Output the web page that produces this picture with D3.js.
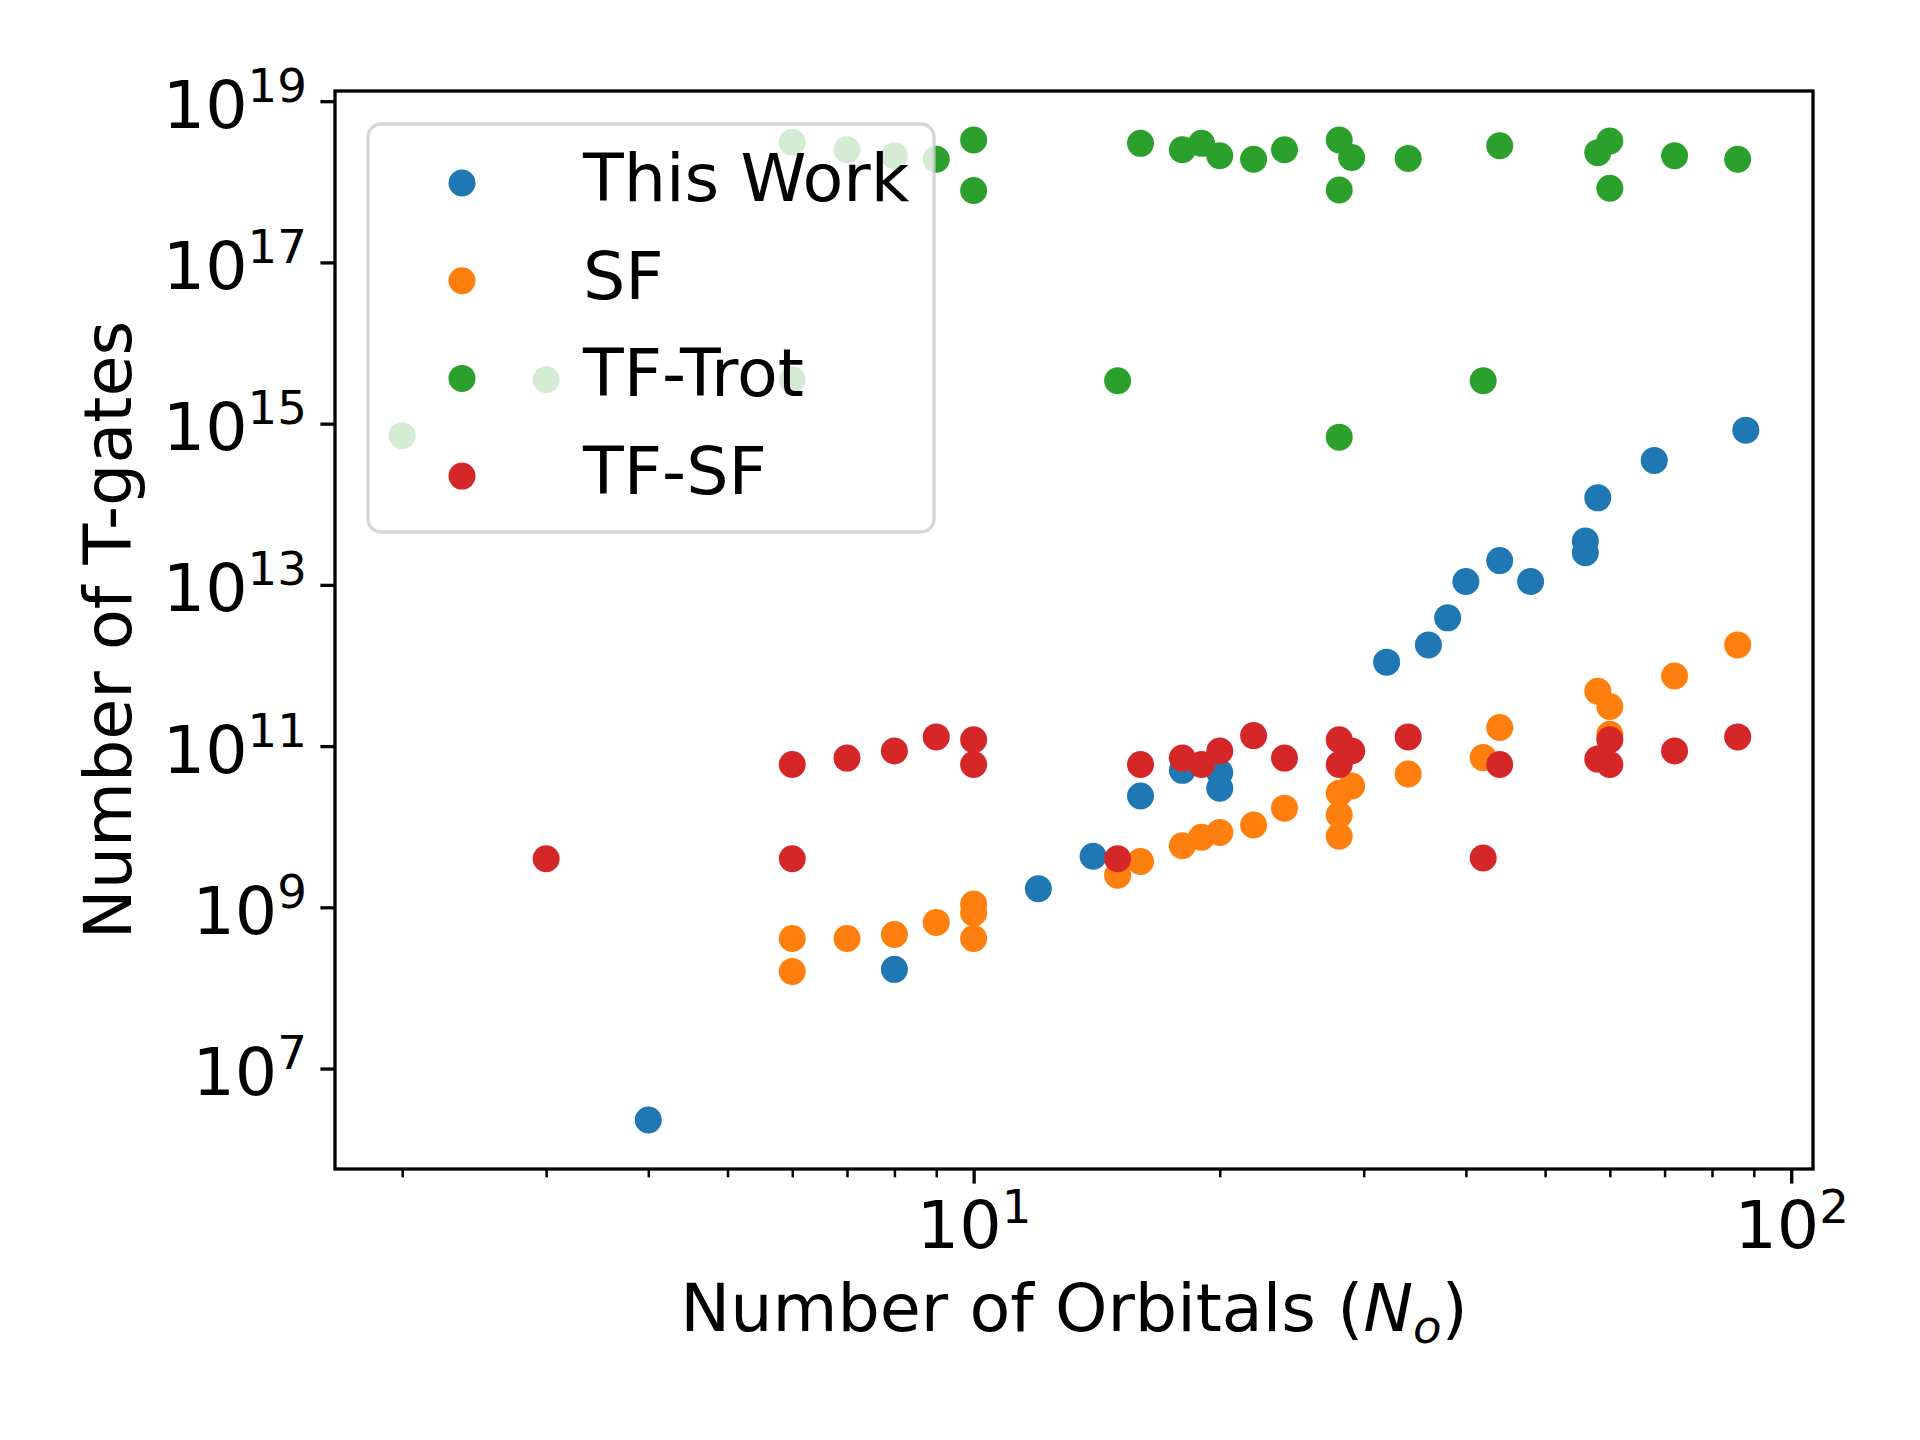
<!DOCTYPE html>
<html>
<head>
<meta charset="utf-8">
<script src="https://cdn.jsdelivr.net/npm/d3@7"></script>
<style>
  body { margin: 0; background: #fff; }
  text { font-family: "DejaVu Sans", sans-serif; }
</style>
</head>
<body>
<div id="chart"></div>
<script>
// series names and colours (matplotlib tab10)
var seriesNames = ["This Work", "SF", "TF-Trot", "TF-SF"];
var seriesColors = ["#1f77b4", "#ff7f0e", "#2ca02c", "#d62728"];

// This Work
var workOrbitals = [4, 8, 12, 14, 16, 18, 20, 20, 32, 36, 38, 40, 44, 48, 56, 56, 58, 68, 88];
var workGates = [2.3e6, 1.7e8, 1.7e9, 4.3e9, 2.4e10, 5.0e10, 4.7e10, 3.0e10, 1.1e12, 1.8e12,
  3.9e12, 1.1e13, 2.0e13, 1.1e13, 3.5e13, 2.5e13, 1.2e14, 3.5e14, 8.3e14];

// SF
var sfOrbitals = [6, 6, 7, 8, 9, 10, 10, 10, 15, 16, 18, 19, 20, 22, 24, 28, 28, 28, 29, 34, 42, 44, 58, 60, 60, 72, 86];
var sfGates = [4.1e8, 1.6e8, 4.1e8, 4.6e8, 6.5e8, 1.1e9, 8.5e8, 4.1e8, 2.5e9, 3.7e9, 5.8e9, 7.4e9,
  8.5e9, 1.05e10, 1.7e10, 2.6e10, 1.4e10, 7.6e9, 3.2e10, 4.5e10, 7.2e10, 1.7e11, 4.8e11, 3.1e11,
  1.4e11, 7.4e11, 1.8e12];

// TF-Trot
var trotOrbitals = [2, 3, 6, 6, 7, 8, 9, 10, 10, 15, 16, 18, 19, 20, 22, 24, 28, 28, 28, 29, 34, 42, 44, 58, 60, 60, 72, 86];
var trotGates = [7.1e14, 3.5e15, 3.1e18, 3.5e15, 2.5e18, 2.1e18, 1.9e18, 3.3e18, 7.8e17, 3.4e15,
  3.0e18, 2.5e18, 3.0e18, 2.1e18, 1.9e18, 2.5e18, 3.3e18, 7.9e17, 6.8e14, 2.0e18, 1.95e18, 3.4e15,
  2.8e18, 2.3e18, 3.2e18, 8.3e17, 2.1e18, 1.9e18];

// TF-SF
var tfsfOrbitals = [3, 6, 6, 7, 8, 9, 10, 10, 15, 16, 18, 19, 20, 22, 24, 28, 28, 29, 34, 42, 44, 58, 60, 60, 72, 86];
var tfsfGates = [4.0e9, 4.0e9, 5.9e10, 7.1e10, 8.7e10, 1.3e11, 1.2e11, 5.9e10, 4.0e9, 5.9e10,
  7.1e10, 5.9e10, 8.7e10, 1.35e11, 7.1e10, 1.2e11, 5.9e10, 8.7e10, 1.3e11, 4.1e9, 5.9e10, 6.9e10,
  1.2e11, 5.9e10, 8.7e10, 1.3e11];

// ticks
var xMajorTicks = [10, 100];
var xMinorTicks = [2, 3, 4, 5, 6, 7, 8, 9, 20, 30, 40, 50, 60, 70, 80, 90];
var yTicks = [1e7, 1e9, 1e11, 1e13, 1e15, 1e17, 1e19];

var xLabel = "Number of Orbitals (";
var yLabel = "Number of T-gates";

var allX = [workOrbitals, sfOrbitals, trotOrbitals, tfsfOrbitals];
var allY = [workGates, sfGates, trotGates, tfsfGates];

// set the dimensions and margins of the graph
var margin = { top: 91, right: 107, bottom: 271, left: 335 },
  width = 1920 - margin.left - margin.right,
  height = 1440 - margin.top - margin.bottom;

var fs = 66.7; // 16pt at 300 dpi

var svg = d3.select("#chart")
  .append("svg")
  .attr("width", 1920)
  .attr("height", 1440)
  .style("background", "#fff");

var g = svg.append("g")
  .attr("transform", "translate(" + margin.left + "," + margin.top + ")");

// log domains padded by 5% like matplotlib
function padLog(ext) {
  var a = Math.log10(ext[0]), b = Math.log10(ext[1]), p = (b - a) * 0.05;
  return [Math.pow(10, a - p), Math.pow(10, b + p)];
}
var x = d3.scaleLog()
  .domain(padLog(d3.extent(d3.merge(allX))))
  .range([0, width]);
var y = d3.scaleLog()
  .domain(padLog(d3.extent(d3.merge(allY))))
  .range([height, 0]);

// dots
seriesNames.forEach(function (name, i) {
  var pts = allX[i].map(function (d, j) { return { n: d, t: allY[i][j] }; });
  g.append("g")
    .selectAll("circle")
    .data(pts)
    .enter()
    .append("circle")
    .attr("cx", function (d) { return x(d.n); })
    .attr("cy", function (d) { return y(d.t); })
    .attr("r", 13.5)
    .style("fill", seriesColors[i]);
});

// X axis, minor ticks
var xMinor = g.append("g")
  .attr("transform", "translate(0," + height + ")")
  .call(d3.axisBottom(x).tickValues(xMinorTicks).tickSize(8.3).tickFormat(""));
xMinor.select(".domain").remove();
xMinor.selectAll("line").attr("stroke-width", 2.5);

// X axis, major ticks
var xMajor = g.append("g")
  .attr("transform", "translate(0," + height + ")")
  .call(d3.axisBottom(x).tickValues(xMajorTicks).tickSize(14.6).tickFormat(""));
xMajor.select(".domain").remove();
xMajor.selectAll("line").attr("stroke-width", 3.3);
xMajor.selectAll(".tick").each(function (d) {
  var t = d3.select(this).append("text")
    .attr("y", 79)
    .attr("text-anchor", "middle")
    .attr("fill", "#000")
    .style("font-size", fs + "px");
  t.append("tspan").text("10");
  t.append("tspan").attr("dy", -25).style("font-size", (fs * 0.7) + "px")
    .text(Math.round(Math.log10(d)));
});

// Y axis
var yAxis = g.append("g")
  .call(d3.axisLeft(y).tickValues(yTicks).tickSize(14.6).tickFormat(""));
yAxis.select(".domain").remove();
yAxis.selectAll("line").attr("stroke-width", 3.3);
yAxis.selectAll(".tick").each(function (d) {
  var t = d3.select(this).append("text")
    .attr("x", -28)
    .attr("y", 26)
    .attr("text-anchor", "end")
    .attr("fill", "#000")
    .style("font-size", fs + "px");
  t.append("tspan").text("10");
  t.append("tspan").attr("dy", -26).style("font-size", (fs * 0.7) + "px")
    .text(Math.round(Math.log10(d)));
});

// frame
g.append("rect")
  .attr("width", width)
  .attr("height", height)
  .attr("fill", "none")
  .attr("stroke", "#000")
  .attr("stroke-width", 3.3);

// axis labels
var xl = svg.append("text")
  .attr("x", margin.left + width / 2)
  .attr("y", 1331)
  .attr("text-anchor", "middle")
  .style("font-size", fs + "px");
xl.append("tspan").text(xLabel);
xl.append("tspan").style("font-style", "italic").text("N");
xl.append("tspan").attr("dy", 12).style("font-size", (fs * 0.7) + "px").style("font-style", "italic").text("o");
xl.append("tspan").attr("dy", -12).text(")");

svg.append("text")
  .attr("transform", "translate(131," + (margin.top + height / 2) + ") rotate(-90)")
  .attr("text-anchor", "middle")
  .style("font-size", fs + "px")
  .text(yLabel);

// legend
var legend = svg.append("g");
legend.append("rect")
  .attr("x", 368)
  .attr("y", 124)
  .attr("width", 566)
  .attr("height", 408)
  .attr("rx", 13)
  .attr("ry", 13)
  .attr("fill", "#fff")
  .attr("fill-opacity", 0.8)
  .attr("stroke", "#cccccc")
  .attr("stroke-opacity", 0.8)
  .attr("stroke-width", 3.3);

var rows = legend.selectAll("g.item")
  .data(seriesNames)
  .enter()
  .append("g")
  .attr("class", "item")
  .attr("transform", function (d, i) { return "translate(0," + (183 + i * 97.7) + ")"; });
rows.append("circle")
  .attr("cx", 462)
  .attr("cy", 0)
  .attr("r", 13.5)
  .style("fill", function (d, i) { return seriesColors[i]; });
rows.append("text")
  .attr("x", 583)
  .attr("y", 18)
  .style("font-size", fs + "px")
  .text(function (d) { return d; });
</script>
</body>
</html>
